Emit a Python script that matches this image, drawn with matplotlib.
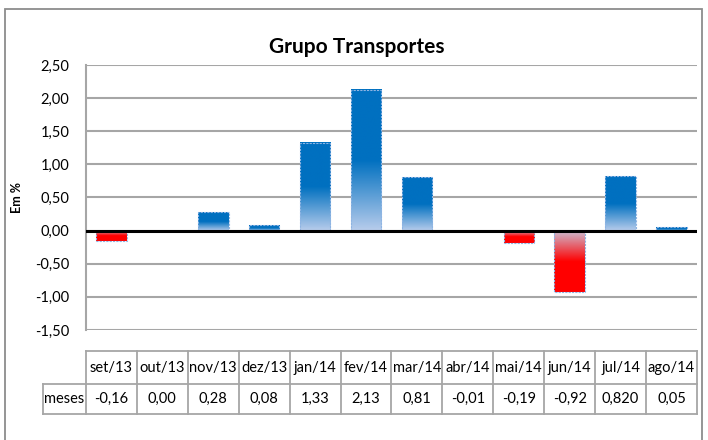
import matplotlib
matplotlib.use("Agg")
import matplotlib.pyplot as plt
import matplotlib.transforms as mtransforms
from matplotlib.colors import LinearSegmentedColormap
from matplotlib.patches import Rectangle
import numpy as np

# data
months = ["set/13", "out/13", "nov/13", "dez/13", "jan/14", "fev/14",
          "mar/14", "abr/14", "mai/14", "jun/14", "jul/14", "ago/14"]
values = [-0.16, 0.00, 0.28, 0.08, 1.33, 2.13, 0.81, -0.01, -0.19, -0.92, 0.82, 0.05]
value_labels = ["-0,16", "0,00", "0,28", "0,08", "1,33", "2,13",
                "0,81", "-0,01", "-0,19", "-0,92", "0,820", "0,05"]
yticks = [-1.5, -1.0, -0.5, 0.0, 0.5, 1.0, 1.5, 2.0, 2.5]

plt.rcParams["font.family"] = ["Lato", "DejaVu Sans"]

W, H = 708, 440
fig = plt.figure(figsize=(W / 100, H / 100), dpi=100)
ax = fig.add_axes([86 / W, 1 - 330 / H, (697 - 86) / W, (330 - 65) / H])

# gradient fills: light at the base, solid from half the bar outwards
blue_cm = LinearSegmentedColormap.from_list("b", [(0, "#B9CDEC"), (0.5, "#0070C0"), (1, "#0070C0")])
red_cm = LinearSegmentedColormap.from_list("r", [(0, "#CDBBD0"), (0.5, "#FF0000"), (1, "#FF0000")])
grad = np.linspace(0, 1, 256).reshape(-1, 1)

bw = 0.6
x = np.arange(len(values))
bars = ax.bar(x, values, width=bw, facecolor="none", edgecolor="#8EB4E3",
              linewidth=0.8, linestyle=(0, (2, 1)), zorder=4)
for b, v in zip(bars, values):
    x0 = b.get_x()
    x1 = x0 + b.get_width()
    if v >= 0:
        ax.imshow(grad, cmap=blue_cm, aspect="auto", origin="lower",
                  extent=(x0, x1, 0, v), zorder=3, interpolation="bilinear")
    else:
        ax.imshow(grad, cmap=red_cm, aspect="auto", origin="upper",
                  extent=(x0, x1, v, 0), zorder=3, interpolation="bilinear")

ax.set_xlim(-0.5, len(values) - 0.5)
ax.set_ylim(-1.5, 2.5)
ax.set_yticks(yticks)
ax.set_yticklabels([f"{t:.2f}".replace(".", ",") for t in yticks], fontsize=10.5)
ax.tick_params(axis="y", length=0, pad=12)
ax.set_xticks([])
ax.grid(axis="y", color="#A6A6A6", linewidth=1.5, zorder=0)
ax.set_axisbelow(True)
for s in ["top", "right", "bottom"]:
    ax.spines[s].set_visible(False)
ax.spines["left"].set_color("#A6A6A6")
ax.spines["left"].set_linewidth(1.5)
ax.axhline(0, color="black", linewidth=2.2, zorder=5)

fig.text(357 / W, 1 - 47 / H, "Grupo Transportes", ha="center", va="center",
         fontsize=15, fontweight="bold")
fig.text(17 / W, 1 - 197 / H, "Em %", ha="center", va="center",
         rotation=90, fontsize=9, fontweight="bold")

# data table under the chart
tr = mtransforms.blended_transform_factory(ax.transData, fig.transFigure)
y_top, y_mid, y_bot = 1 - 351 / H, 1 - 384 / H, 1 - 414 / H
x_left = -0.5 - (86 - 43) / ((697 - 86) / 12)
x_right = len(values) - 0.5
lc = dict(color="#A6A6A6", linewidth=1.3, transform=tr, clip_on=False)
ax.plot([-0.5, x_right], [y_top, y_top], **lc)
ax.plot([x_left, x_right], [y_mid, y_mid], **lc)
ax.plot([x_left, x_right], [y_bot, y_bot], **lc)
ax.plot([x_left, x_left], [y_mid, y_bot], **lc)
for i in range(len(values) + 1):
    ax.plot([i - 0.5, i - 0.5], [y_top, y_bot], **lc)
for i, (m, lab) in enumerate(zip(months, value_labels)):
    ax.text(i, (y_top + y_mid) / 2, m, ha="center", va="center",
            fontsize=10.5, transform=tr)
    ax.text(i, (y_mid + y_bot) / 2, lab, ha="center", va="center",
            fontsize=10.5, transform=tr)
ax.text((x_left - 0.5) / 2, (y_mid + y_bot) / 2, "meses", ha="center",
        va="center", fontsize=10.5, transform=tr)

# outer chart border
fig.patches.append(Rectangle((5 / W, -0.05), (702 - 5) / W, 1.05 - 9 / H,
                             transform=fig.transFigure, fill=False,
                             edgecolor="#8C8C8C", linewidth=1.3))

fig.savefig("out.png", dpi=100)
